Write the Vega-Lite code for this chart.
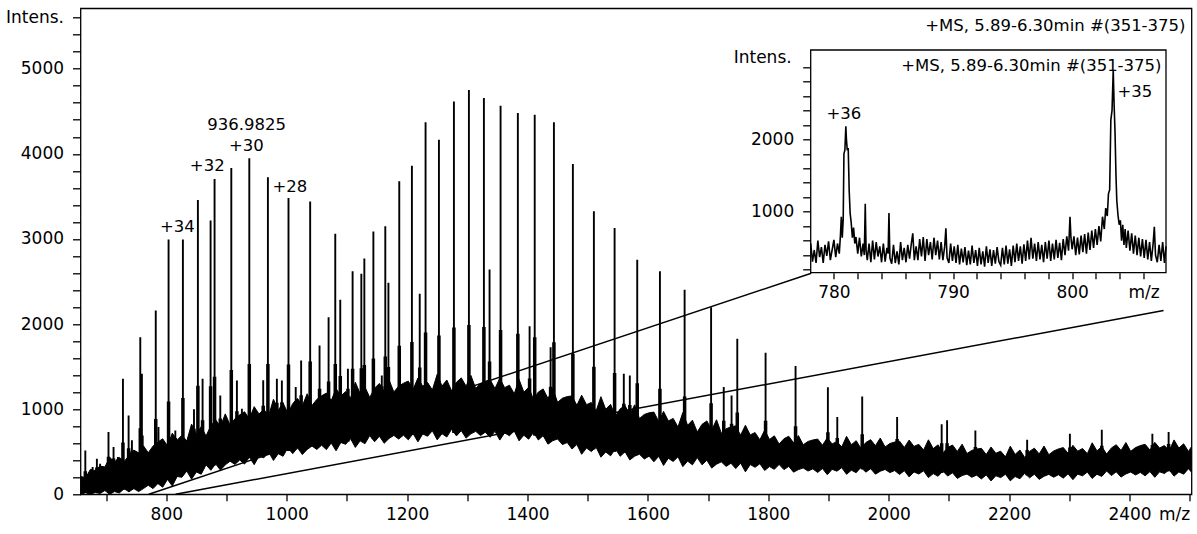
{
"$schema": "https://vega.github.io/schema/vega-lite/v6.json",
"width": 1111, "height": 486,
"autosize": {"type": "none"},
"padding": {"left": 80.5, "top": 8.3, "right": 5, "bottom": 40},
"background": "white",
"config": {
 "font": "DejaVu Sans",
 "view": {"stroke": "black", "strokeWidth": 1.3},
 "axis": {"labelFont": "DejaVu Sans", "labelFontSize": 17, "labelColor": "black", "tickColor": "black", "tickWidth": 1.3, "titleFont": "DejaVu Sans", "titleFontSize": 17, "titleFontWeight": "normal", "titleColor": "black", "domain": false, "grid": false, "labelOverlap": false, "labelFlush": false},
 "text": {"font": "DejaVu Sans", "fontSize": 16.5, "color": "black"}
},
"datasets": {
 "band": [
{"m":658,"lo":0,"hi":210},{"m":666,"lo":19,"hi":194},{"m":674,"lo":0,"hi":293},{"m":682,"lo":21,"hi":278},{"m":690,"lo":10,"hi":332},{"m":698,"lo":44,"hi":321},{"m":706,"lo":0,"hi":433},{"m":714,"lo":32,"hi":381},{"m":722,"lo":16,"hi":433},{"m":730,"lo":65,"hi":386},{"m":738,"lo":29,"hi":454},{"m":746,"lo":67,"hi":519},{"m":754,"lo":32,"hi":487},{"m":762,"lo":67,"hi":570},{"m":770,"lo":107,"hi":488},{"m":778,"lo":67,"hi":566},{"m":786,"lo":126,"hi":614},{"m":794,"lo":83,"hi":652},{"m":802,"lo":175,"hi":570},{"m":810,"lo":97,"hi":718},{"m":818,"lo":209,"hi":636},{"m":826,"lo":200,"hi":695},{"m":834,"lo":274,"hi":625},{"m":842,"lo":178,"hi":825},{"m":850,"lo":262,"hi":705},{"m":858,"lo":236,"hi":795},{"m":866,"lo":346,"hi":685},{"m":874,"lo":282,"hi":805},{"m":882,"lo":358,"hi":875},{"m":890,"lo":284,"hi":795},{"m":898,"lo":346,"hi":945},{"m":906,"lo":389,"hi":812},{"m":914,"lo":351,"hi":888},{"m":922,"lo":403,"hi":934},{"m":930,"lo":355,"hi":970},{"m":938,"lo":437,"hi":886},{"m":946,"lo":348,"hi":1030},{"m":954,"lo":448,"hi":944},{"m":962,"lo":428,"hi":998},{"m":970,"lo":498,"hi":922},{"m":978,"lo":398,"hi":1116},{"m":986,"lo":477,"hi":989},{"m":994,"lo":447,"hi":1071},{"m":1002,"lo":547,"hi":953},{"m":1010,"lo":477,"hi":1065},{"m":1018,"lo":547,"hi":1127},{"m":1026,"lo":467,"hi":1039},{"m":1034,"lo":527,"hi":1181},{"m":1042,"lo":567,"hi":1043},{"m":1050,"lo":527,"hi":1115},{"m":1058,"lo":577,"hi":1157},{"m":1066,"lo":525,"hi":1189},{"m":1074,"lo":603,"hi":1101},{"m":1082,"lo":511,"hi":1243},{"m":1090,"lo":609,"hi":1155},{"m":1098,"lo":587,"hi":1207},{"m":1106,"lo":655,"hi":1128},{"m":1114,"lo":551,"hi":1316},{"m":1122,"lo":628,"hi":1184},{"m":1130,"lo":594,"hi":1260},{"m":1138,"lo":690,"hi":1138},{"m":1146,"lo":617,"hi":1246},{"m":1154,"lo":683,"hi":1303},{"m":1162,"lo":600,"hi":1210},{"m":1170,"lo":656,"hi":1346},{"m":1178,"lo":692,"hi":1202},{"m":1186,"lo":649,"hi":1269},{"m":1194,"lo":695,"hi":1305},{"m":1202,"lo":640,"hi":1330},{"m":1210,"lo":713,"hi":1233},{"m":1218,"lo":616,"hi":1366},{"m":1226,"lo":709,"hi":1269},{"m":1234,"lo":682,"hi":1313},{"m":1242,"lo":746,"hi":1226},{"m":1250,"lo":640,"hi":1410},{"m":1258,"lo":712,"hi":1272},{"m":1266,"lo":673,"hi":1343},{"m":1274,"lo":765,"hi":1215},{"m":1282,"lo":686,"hi":1316},{"m":1290,"lo":748,"hi":1368},{"m":1298,"lo":660,"hi":1270},{"m":1306,"lo":710,"hi":1397},{"m":1314,"lo":740,"hi":1244},{"m":1322,"lo":690,"hi":1301},{"m":1330,"lo":730,"hi":1328},{"m":1338,"lo":670,"hi":1345},{"m":1346,"lo":740,"hi":1242},{"m":1354,"lo":637,"hi":1364},{"m":1362,"lo":722,"hi":1253},{"m":1370,"lo":688,"hi":1282},{"m":1378,"lo":744,"hi":1181},{"m":1386,"lo":628,"hi":1350},{"m":1394,"lo":694,"hi":1199},{"m":1402,"lo":648,"hi":1257},{"m":1410,"lo":728,"hi":1114},{"m":1418,"lo":638,"hi":1201},{"m":1426,"lo":689,"hi":1238},{"m":1434,"lo":589,"hi":1126},{"m":1442,"lo":630,"hi":1243},{"m":1450,"lo":650,"hi":1080},{"m":1458,"lo":584,"hi":1129},{"m":1466,"lo":608,"hi":1148},{"m":1474,"lo":532,"hi":1156},{"m":1482,"lo":586,"hi":1045},{"m":1490,"lo":470,"hi":1164},{"m":1498,"lo":544,"hi":1053},{"m":1506,"lo":502,"hi":1079},{"m":1514,"lo":554,"hi":978},{"m":1522,"lo":436,"hi":1147},{"m":1530,"lo":498,"hi":998},{"m":1538,"lo":452,"hi":1057},{"m":1546,"lo":534,"hi":916},{"m":1554,"lo":447,"hi":1004},{"m":1562,"lo":500,"hi":1043},{"m":1570,"lo":404,"hi":932},{"m":1578,"lo":448,"hi":1051},{"m":1586,"lo":471,"hi":890},{"m":1594,"lo":415,"hi":938},{"m":1602,"lo":448,"hi":957},{"m":1610,"lo":382,"hi":966},{"m":1618,"lo":446,"hi":855},{"m":1626,"lo":339,"hi":974},{"m":1634,"lo":423,"hi":862},{"m":1642,"lo":386,"hi":891},{"m":1650,"lo":440,"hi":790},{"m":1658,"lo":325,"hi":960},{"m":1666,"lo":390,"hi":811},{"m":1674,"lo":346,"hi":871},{"m":1682,"lo":431,"hi":732},{"m":1690,"lo":346,"hi":822},{"m":1698,"lo":401,"hi":862},{"m":1706,"lo":308,"hi":754},{"m":1714,"lo":354,"hi":876},{"m":1722,"lo":381,"hi":718},{"m":1730,"lo":328,"hi":770},{"m":1738,"lo":365,"hi":792},{"m":1746,"lo":302,"hi":804},{"m":1754,"lo":367,"hi":694},{"m":1762,"lo":264,"hi":811},{"m":1770,"lo":350,"hi":698},{"m":1778,"lo":317,"hi":725},{"m":1786,"lo":359,"hi":640},{"m":1794,"lo":280,"hi":754},{"m":1802,"lo":326,"hi":644},{"m":1810,"lo":293,"hi":687},{"m":1818,"lo":351,"hi":590},{"m":1826,"lo":290,"hi":653},{"m":1834,"lo":328,"hi":682},{"m":1842,"lo":260,"hi":605},{"m":1850,"lo":290,"hi":690},{"m":1858,"lo":309,"hi":582},{"m":1866,"lo":273,"hi":621},{"m":1874,"lo":299,"hi":638},{"m":1882,"lo":256,"hi":649},{"m":1890,"lo":303,"hi":576},{"m":1898,"lo":231,"hi":664},{"m":1906,"lo":293,"hi":592},{"m":1914,"lo":272,"hi":619},{"m":1922,"lo":313,"hi":556},{"m":1930,"lo":235,"hi":681},{"m":1938,"lo":283,"hi":582},{"m":1946,"lo":254,"hi":630},{"m":1954,"lo":317,"hi":539},{"m":1962,"lo":260,"hi":608},{"m":1970,"lo":301,"hi":642},{"m":1978,"lo":237,"hi":571},{"m":1986,"lo":271,"hi":661},{"m":1994,"lo":292,"hi":556},{"m":2002,"lo":255,"hi":597},{"m":2010,"lo":279,"hi":614},{"m":2018,"lo":233,"hi":624},{"m":2026,"lo":278,"hi":550},{"m":2034,"lo":204,"hi":637},{"m":2042,"lo":263,"hi":563},{"m":2050,"lo":238,"hi":587},{"m":2058,"lo":276,"hi":520},{"m":2066,"lo":196,"hi":640},{"m":2074,"lo":243,"hi":537},{"m":2082,"lo":212,"hi":581},{"m":2090,"lo":273,"hi":485},{"m":2098,"lo":214,"hi":549},{"m":2106,"lo":253,"hi":579},{"m":2114,"lo":187,"hi":503},{"m":2122,"lo":220,"hi":589},{"m":2130,"lo":238,"hi":479},{"m":2138,"lo":200,"hi":516},{"m":2146,"lo":225,"hi":531},{"m":2154,"lo":181,"hi":540},{"m":2162,"lo":228,"hi":467},{"m":2170,"lo":157,"hi":555},{"m":2178,"lo":218,"hi":482},{"m":2186,"lo":196,"hi":507},{"m":2194,"lo":236,"hi":440},{"m":2202,"lo":158,"hi":565},{"m":2210,"lo":209,"hi":469},{"m":2218,"lo":183,"hi":520},{"m":2226,"lo":247,"hi":432},{"m":2234,"lo":193,"hi":504},{"m":2242,"lo":236,"hi":542},{"m":2250,"lo":175,"hi":474},{"m":2258,"lo":212,"hi":567},{"m":2266,"lo":234,"hi":465},{"m":2274,"lo":201,"hi":509},{"m":2282,"lo":230,"hi":533},{"m":2290,"lo":190,"hi":549},{"m":2298,"lo":241,"hi":481},{"m":2306,"lo":172,"hi":575},{"m":2314,"lo":237,"hi":507},{"m":2322,"lo":217,"hi":538},{"m":2330,"lo":261,"hi":477},{"m":2338,"lo":186,"hi":605},{"m":2346,"lo":236,"hi":510},{"m":2354,"lo":210,"hi":561},{"m":2362,"lo":274,"hi":472},{"m":2370,"lo":220,"hi":545},{"m":2378,"lo":264,"hi":582},{"m":2386,"lo":202,"hi":515},{"m":2394,"lo":239,"hi":608},{"m":2402,"lo":261,"hi":505},{"m":2410,"lo":228,"hi":549},{"m":2418,"lo":257,"hi":572},{"m":2426,"lo":217,"hi":587},{"m":2434,"lo":267,"hi":519},{"m":2442,"lo":199,"hi":611},{"m":2450,"lo":264,"hi":543},{"m":2458,"lo":244,"hi":573},{"m":2466,"lo":288,"hi":511},{"m":2474,"lo":213,"hi":639},{"m":2482,"lo":263,"hi":543},{"m":2490,"lo":237,"hi":593},{"m":2498,"lo":301,"hi":503},{"m":2503,"lo":260,"hi":560}
 ],
 "peaks": [
{"m":665.5,"i":516,"b":20,"f":270},{"m":677.6,"i":321,"b":20,"f":265},{"m":684.7,"i":419,"b":25,"f":315},{"m":690,"i":360,"b":25,"f":325},{"m":704,"i":731,"b":40,"f":440},{"m":712.4,"i":555,"b":40,"f":420},{"m":719.6,"i":438,"b":45,"f":410},{"m":728,"i":1358,"b":50,"f":610},{"m":737.4,"i":927,"b":55,"f":540},{"m":742.9,"i":634,"b":60,"f":505},{"m":756.8,"i":1846,"b":80,"f":775},{"m":759.5,"i":1416,"b":80,"f":690},{"m":782.5,"i":2160,"b":120,"f":885},{"m":787,"i":790,"b":130,"f":615},{"m":803.8,"i":2993,"b":180,"f":1090},{"m":815,"i":750,"b":210,"f":660},{"m":827.6,"i":2993,"b":240,"f":1130},{"m":846,"i":1000,"b":270,"f":770},{"m":852.5,"i":3459,"b":280,"f":1275},{"m":860.3,"i":1358,"b":300,"f":870},{"m":873.6,"i":3216,"b":330,"f":1270},{"m":880.2,"i":3705,"b":340,"f":1380},{"m":889.7,"i":1162,"b":360,"f":890},{"m":908,"i":3834,"b":390,"f":1460},{"m":917.3,"i":1338,"b":400,"f":975},{"m":925.6,"i":1006,"b":410,"f":920},{"m":937.9,"i":3948,"b":430,"f":1530},{"m":948,"i":986,"b":440,"f":950},{"m":961,"i":1340,"b":460,"f":1040},{"m":968.8,"i":3725,"b":470,"f":1530},{"m":983.7,"i":1358,"b":490,"f":1075},{"m":992,"i":1338,"b":500,"f":1080},{"m":1003,"i":3482,"b":510,"f":1525},{"m":1015,"i":1260,"b":530,"f":1095},{"m":1024,"i":1573,"b":540,"f":1165},{"m":1039,"i":3439,"b":560,"f":1560},{"m":1054.6,"i":1749,"b":580,"f":1240},{"m":1069.6,"i":2081,"b":590,"f":1325},{"m":1080.7,"i":3060,"b":600,"f":1530},{"m":1089,"i":2285,"b":610,"f":1390},{"m":1101.7,"i":1475,"b":620,"f":1240},{"m":1109.5,"i":2621,"b":630,"f":1475},{"m":1124,"i":2590,"b":640,"f":1480},{"m":1129,"i":2770,"b":640,"f":1520},{"m":1144,"i":3087,"b":650,"f":1595},{"m":1158,"i":1397,"b":660,"f":1270},{"m":1163.8,"i":3149,"b":670,"f":1620},{"m":1169,"i":2485,"b":670,"f":1495},{"m":1187,"i":3677,"b":690,"f":1745},{"m":1208,"i":3861,"b":700,"f":1790},{"m":1221,"i":2355,"b":700,"f":1490},{"m":1230.7,"i":4370,"b":710,"f":1900},{"m":1252.9,"i":4166,"b":720,"f":1865},{"m":1277.8,"i":4616,"b":720,"f":1960},{"m":1302.7,"i":4750,"b":730,"f":1990},{"m":1327.6,"i":4656,"b":730,"f":1965},{"m":1337,"i":2641,"b":730,"f":1560},{"m":1355.3,"i":4566,"b":720,"f":1930},{"m":1384,"i":4480,"b":710,"f":1885},{"m":1403.5,"i":1975,"b":700,"f":1360},{"m":1412,"i":4460,"b":690,"f":1845},{"m":1438.4,"i":1729,"b":660,"f":1265},{"m":1443.9,"i":4370,"b":650,"f":1785},{"m":1475.4,"i":3881,"b":600,"f":1650},{"m":1510.3,"i":3325,"b":530,"f":1500},{"m":1544.7,"i":3130,"b":500,"f":1425},{"m":1560,"i":1417,"b":490,"f":1065},{"m":1570,"i":1397,"b":480,"f":1050},{"m":1582.3,"i":2755,"b":470,"f":1305},{"m":1620,"i":2621,"b":440,"f":1240},{"m":1661,"i":2403,"b":410,"f":1150},{"m":1705,"i":2198,"b":380,"f":1070},{"m":1726,"i":1260,"b":370,"f":865},{"m":1739,"i":1162,"b":370,"f":830},{"m":1748.5,"i":1827,"b":360,"f":960},{"m":1795.5,"i":1663,"b":340,"f":865},{"m":1845.3,"i":1506,"b":310,"f":800},{"m":1899,"i":1259,"b":300,"f":730},{"m":1914.6,"i":907,"b":300,"f":660},{"m":1956,"i":1150,"b":295,"f":705},{"m":2014,"i":907,"b":285,"f":650},{"m":2088,"i":822,"b":250,"f":600},{"m":2097,"i":869,"b":250,"f":600},{"m":2144,"i":751,"b":235,"f":555},{"m":2230,"i":642,"b":225,"f":520},{"m":2301,"i":712,"b":240,"f":550},{"m":2354,"i":759,"b":250,"f":570},{"m":2438,"i":712,"b":265,"f":580},{"m":2465,"i":731,"b":270,"f":590}
 ],
 "links": [
{"m1":771,"i1":0,"m2":1871.4,"i2":2597},
{"m1":815.4,"i1":0,"m2":2456.6,"i2":2160}
 ],
 "notes": [
{"m":933.4,"i":4343,"t":"936.9825"},{"m":932.9,"i":4088,"t":"+30"},{"m":868,"i":3853,"t":"+32"},{"m":1005.3,"i":3615,"t":"+28"},{"m":818.3,"i":3137,"t":"+34"}
 ],
 "title1": [{"m":2493,"i":5505,"t":"+MS, 5.89-6.30min #(351-375)"}],
 "inset": [
{"m":778.05,"i":560},{"m":778.2,"i":310},{"m":778.35,"i":470},{"m":778.5,"i":290},{"m":778.65,"i":600},{"m":778.8,"i":370},{"m":778.95,"i":510},{"m":779.1,"i":290},{"m":779.25,"i":540},{"m":779.4,"i":390},{"m":779.55,"i":590},{"m":779.7,"i":330},{"m":779.85,"i":470},{"m":780.0,"i":610},{"m":780.15,"i":370},{"m":780.3,"i":560},{"m":780.45,"i":420},{"m":780.55,"i":680},{"m":780.62,"i":930},{"m":780.7,"i":640},{"m":780.78,"i":900},{"m":780.84,"i":1800},{"m":780.92,"i":1850},{"m":781.0,"i":2180},{"m":781.05,"i":2000},{"m":781.12,"i":1850},{"m":781.2,"i":1880},{"m":781.28,"i":1300},{"m":781.36,"i":980},{"m":781.45,"i":850},{"m":781.55,"i":640},{"m":781.65,"i":780},{"m":781.75,"i":560},{"m":781.85,"i":650},{"m":782.0,"i":420},{"m":782.15,"i":640},{"m":782.3,"i":380},{"m":782.45,"i":560},{"m":782.55,"i":400},{"m":782.63,"i":1110},{"m":782.7,"i":470},{"m":782.8,"i":330},{"m":782.95,"i":560},{"m":783.1,"i":300},{"m":783.25,"i":600},{"m":783.4,"i":340},{"m":783.55,"i":580},{"m":783.7,"i":380},{"m":783.85,"i":520},{"m":784.0,"i":300},{"m":784.15,"i":560},{"m":784.3,"i":310},{"m":784.45,"i":500},{"m":784.55,"i":420},{"m":784.62,"i":980},{"m":784.7,"i":360},{"m":784.85,"i":280},{"m":785.0,"i":540},{"m":785.15,"i":290},{"m":785.3,"i":450},{"m":785.45,"i":270},{"m":785.6,"i":580},{"m":785.75,"i":330},{"m":785.9,"i":500},{"m":786.05,"i":300},{"m":786.2,"i":540},{"m":786.35,"i":350},{"m":786.5,"i":560},{"m":786.62,"i":700},{"m":786.75,"i":330},{"m":786.9,"i":520},{"m":787.05,"i":330},{"m":787.2,"i":620},{"m":787.35,"i":380},{"m":787.5,"i":650},{"m":787.65,"i":320},{"m":787.8,"i":620},{"m":787.95,"i":400},{"m":788.1,"i":580},{"m":788.25,"i":340},{"m":788.4,"i":640},{"m":788.55,"i":400},{"m":788.7,"i":600},{"m":788.85,"i":340},{"m":789.0,"i":580},{"m":789.15,"i":330},{"m":789.3,"i":520},{"m":789.4,"i":770},{"m":789.5,"i":360},{"m":789.65,"i":290},{"m":789.8,"i":560},{"m":789.95,"i":320},{"m":790.1,"i":520},{"m":790.25,"i":290},{"m":790.4,"i":540},{"m":790.55,"i":270},{"m":790.7,"i":490},{"m":790.85,"i":300},{"m":791.0,"i":510},{"m":791.15,"i":260},{"m":791.3,"i":460},{"m":791.45,"i":270},{"m":791.6,"i":530},{"m":791.75,"i":290},{"m":791.9,"i":470},{"m":792.05,"i":250},{"m":792.2,"i":500},{"m":792.35,"i":270},{"m":792.5,"i":450},{"m":792.65,"i":240},{"m":792.8,"i":520},{"m":792.95,"i":290},{"m":793.1,"i":480},{"m":793.25,"i":250},{"m":793.4,"i":470},{"m":793.55,"i":280},{"m":793.7,"i":510},{"m":793.85,"i":310},{"m":794.0,"i":260},{"m":794.15,"i":500},{"m":794.3,"i":270},{"m":794.45,"i":530},{"m":794.6,"i":280},{"m":794.75,"i":480},{"m":794.9,"i":250},{"m":795.05,"i":530},{"m":795.2,"i":300},{"m":795.35,"i":560},{"m":795.5,"i":320},{"m":795.65,"i":520},{"m":795.8,"i":280},{"m":795.95,"i":550},{"m":796.1,"i":320},{"m":796.25,"i":600},{"m":796.4,"i":340},{"m":796.55,"i":640},{"m":796.7,"i":350},{"m":796.85,"i":560},{"m":797.0,"i":320},{"m":797.15,"i":580},{"m":797.3,"i":340},{"m":797.45,"i":540},{"m":797.6,"i":300},{"m":797.75,"i":580},{"m":797.9,"i":350},{"m":798.05,"i":600},{"m":798.2,"i":320},{"m":798.35,"i":560},{"m":798.5,"i":340},{"m":798.65,"i":610},{"m":798.8,"i":360},{"m":798.95,"i":570},{"m":799.1,"i":330},{"m":799.25,"i":620},{"m":799.4,"i":400},{"m":799.55,"i":660},{"m":799.7,"i":460},{"m":799.82,"i":930},{"m":799.9,"i":640},{"m":800.0,"i":480},{"m":800.15,"i":660},{"m":800.3,"i":400},{"m":800.45,"i":640},{"m":800.6,"i":410},{"m":800.75,"i":670},{"m":800.9,"i":440},{"m":801.05,"i":690},{"m":801.2,"i":420},{"m":801.35,"i":710},{"m":801.5,"i":470},{"m":801.65,"i":740},{"m":801.8,"i":500},{"m":801.95,"i":760},{"m":802.1,"i":540},{"m":802.25,"i":800},{"m":802.4,"i":590},{"m":802.55,"i":930},{"m":802.7,"i":760},{"m":802.82,"i":1050},{"m":802.95,"i":940},{"m":803.05,"i":1250},{"m":803.15,"i":1300},{"m":803.25,"i":2270},{"m":803.35,"i":2400},{"m":803.45,"i":2960},{"m":803.52,"i":2500},{"m":803.6,"i":2100},{"m":803.68,"i":1500},{"m":803.75,"i":1150},{"m":803.85,"i":950},{"m":803.95,"i":820},{"m":804.05,"i":880},{"m":804.15,"i":600},{"m":804.25,"i":820},{"m":804.35,"i":540},{"m":804.45,"i":760},{"m":804.55,"i":500},{"m":804.7,"i":740},{"m":804.85,"i":460},{"m":805.0,"i":700},{"m":805.15,"i":420},{"m":805.3,"i":670},{"m":805.45,"i":400},{"m":805.6,"i":640},{"m":805.75,"i":380},{"m":805.9,"i":620},{"m":806.05,"i":360},{"m":806.2,"i":610},{"m":806.35,"i":340},{"m":806.5,"i":580},{"m":806.65,"i":320},{"m":806.8,"i":560},{"m":806.9,"i":790},{"m":807.0,"i":400},{"m":807.15,"i":300},{"m":807.3,"i":540},{"m":807.45,"i":320},{"m":807.6,"i":580},{"m":807.75,"i":290},{"m":807.88,"i":520}
 ],
 "inotes": [{"m":780.84,"i":2347,"t":"+36"},{"m":805.26,"i":2660,"t":"+35"}],
 "ititle": [{"m":807.5,"i":3019,"t":"+MS, 5.89-6.30min #(351-375)"}],
 "ilabel": [{"m":776.45,"i":3125,"t":"Intens."}]
},
"layer": [
 {
  "data": {"name": "band"},
  "mark": {"type": "area", "color": "black", "stroke": "black", "strokeWidth": 1, "clip": true},
  "encoding": {
   "x": {"field": "m", "type": "quantitative", "scale": {"domain": [657.5, 2503], "nice": false, "zero": false},
    "axis": {"orient": "bottom", "values": [700,800,900,1000,1100,1200,1300,1400,1500,1600,1700,1800,1900,2000,2100,2200,2300,2400,2500], "format": "d",
     "labelExpr": "datum.value % 200 == 0 && datum.value < 2500 ? datum.label : ''",
     "tickSize": 6.5, "labelPadding": 5.5,
     "title": "m/z", "titleX": 1093.5, "titleY": 12, "titleAlign": "center", "titleBaseline": "top"}},
   "y": {"field": "hi", "type": "quantitative", "scale": {"domain": [0, 5710], "nice": false, "zero": false},
    "axis": {"orient": "left", "values": [0,200,400,600,800,1000,1200,1400,1600,1800,2000,2200,2400,2600,2800,3000,3200,3400,3600,3800,4000,4200,4400,4600,4800,5000,5200,5400,5600], "format": "d",
     "labelExpr": "datum.value == 5600 ? 'Intens.' : (datum.value % 1000 == 0 ? datum.label : '')",
     "tickSize": 8, "labelPadding": 9, "title": null}},
   "y2": {"field": "lo"}
  }
 },
 {
  "data": {"name": "peaks"},
  "mark": {"type": "rule", "color": "black", "strokeWidth": 3.5, "clip": true},
  "encoding": {
   "x": {"field": "m", "type": "quantitative", "scale": {"domain": [657.5, 2503], "nice": false, "zero": false}, "axis": null},
   "y": {"field": "f", "type": "quantitative", "scale": {"domain": [0, 5710], "nice": false, "zero": false}, "axis": null},
   "y2": {"field": "b"}
  }
 },
 {
  "data": {"name": "peaks"},
  "mark": {"type": "rule", "color": "black", "strokeWidth": 1.9, "clip": true},
  "encoding": {
   "x": {"field": "m", "type": "quantitative", "scale": {"domain": [657.5, 2503], "nice": false, "zero": false}, "axis": null},
   "y": {"field": "i", "type": "quantitative", "scale": {"domain": [0, 5710], "nice": false, "zero": false}, "axis": null},
   "y2": {"field": "b"}
  }
 },
 {
  "data": {"name": "links"},
  "mark": {"type": "rule", "color": "black", "strokeWidth": 1.5, "clip": true},
  "encoding": {
   "x": {"field": "m1", "type": "quantitative", "scale": {"domain": [657.5, 2503], "nice": false, "zero": false}, "axis": null},
   "x2": {"field": "m2"},
   "y": {"field": "i1", "type": "quantitative", "scale": {"domain": [0, 5710], "nice": false, "zero": false}, "axis": null},
   "y2": {"field": "i2"}
  }
 },
 {
  "data": {"name": "notes"},
  "mark": {"type": "text", "align": "center", "baseline": "middle"},
  "encoding": {
   "x": {"field": "m", "type": "quantitative", "scale": {"domain": [657.5, 2503], "nice": false, "zero": false}, "axis": null},
   "y": {"field": "i", "type": "quantitative", "scale": {"domain": [0, 5710], "nice": false, "zero": false}, "axis": null},
   "text": {"field": "t"}
  }
 },
 {
  "data": {"name": "title1"},
  "mark": {"type": "text", "align": "right", "baseline": "middle"},
  "encoding": {
   "x": {"field": "m", "type": "quantitative", "scale": {"domain": [657.5, 2503], "nice": false, "zero": false}, "axis": null},
   "y": {"field": "i", "type": "quantitative", "scale": {"domain": [0, 5710], "nice": false, "zero": false}, "axis": null},
   "text": {"field": "t"}
  }
 },
 {
  "data": {"values": [{}]},
  "mark": {"type": "rect", "fill": "white", "stroke": "black", "strokeWidth": 1.3},
  "encoding": {
   "x": {"datum": 778.05, "type": "quantitative", "scale": {"domain": [778.05, 807.88], "range": [730.2, 1085.5], "nice": false, "zero": false}, "axis": null},
   "x2": {"datum": 807.88},
   "y": {"datum": 156, "type": "quantitative", "scale": {"domain": [156, 3236], "range": [264.4, 41.7], "nice": false, "zero": false}, "axis": null},
   "y2": {"datum": 3236}
  }
 },
 {
  "data": {"name": "inset"},
  "mark": {"type": "line", "color": "black", "strokeWidth": 1.6, "clip": true},
  "encoding": {
   "x": {"field": "m", "type": "quantitative", "scale": {"domain": [778.05, 807.88], "range": [730.2, 1085.5], "nice": false, "zero": false},
    "axis": {"orient": "bottom", "offset": -221.6, "values": [780,782,784,786,788,790,792,794,796,798,800,802,804,806], "format": "d",
     "labelExpr": "datum.value == 806 ? 'm/z' : (datum.value % 10 == 0 ? datum.label : '')",
     "tickSize": 6, "labelPadding": 6, "title": null}},
   "y": {"field": "i", "type": "quantitative", "scale": {"domain": [156, 3236], "range": [264.4, 41.7], "nice": false, "zero": false},
    "axis": {"orient": "left", "offset": -730.2, "values": [200,400,600,800,1000,1200,1400,1600,1800,2000,2200,2400,2600,2800,3000], "format": "d",
     "labelExpr": "datum.value % 1000 == 0 && datum.value < 3000 ? datum.label : ''",
     "tickSize": 8, "labelPadding": 9, "title": null}}
  }
 },
 {
  "data": {"name": "inotes"},
  "mark": {"type": "text", "align": "center", "baseline": "middle"},
  "encoding": {
   "x": {"field": "m", "type": "quantitative", "scale": {"domain": [778.05, 807.88], "range": [730.2, 1085.5], "nice": false, "zero": false}, "axis": null},
   "y": {"field": "i", "type": "quantitative", "scale": {"domain": [156, 3236], "range": [264.4, 41.7], "nice": false, "zero": false}, "axis": null},
   "text": {"field": "t"}
  }
 },
 {
  "data": {"name": "ititle"},
  "mark": {"type": "text", "align": "right", "baseline": "middle"},
  "encoding": {
   "x": {"field": "m", "type": "quantitative", "scale": {"domain": [778.05, 807.88], "range": [730.2, 1085.5], "nice": false, "zero": false}, "axis": null},
   "y": {"field": "i", "type": "quantitative", "scale": {"domain": [156, 3236], "range": [264.4, 41.7], "nice": false, "zero": false}, "axis": null},
   "text": {"field": "t"}
  }
 },
 {
  "data": {"name": "ilabel"},
  "mark": {"type": "text", "align": "right", "baseline": "middle", "fontSize": 17},
  "encoding": {
   "x": {"field": "m", "type": "quantitative", "scale": {"domain": [778.05, 807.88], "range": [730.2, 1085.5], "nice": false, "zero": false}, "axis": null},
   "y": {"field": "i", "type": "quantitative", "scale": {"domain": [156, 3236], "range": [264.4, 41.7], "nice": false, "zero": false}, "axis": null},
   "text": {"field": "t"}
  }
 }
],
"resolve": {"scale": {"x": "independent", "y": "independent"}, "axis": {"x": "independent", "y": "independent"}}
}
